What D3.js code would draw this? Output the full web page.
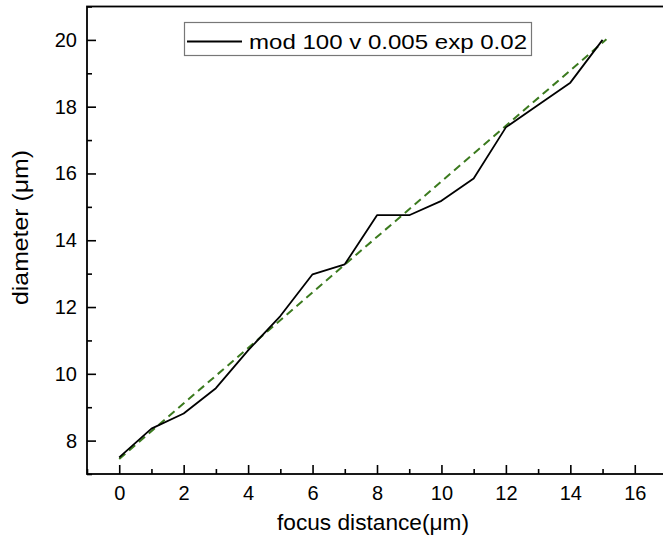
<!DOCTYPE html>
<html>
<head>
<meta charset="utf-8">
<script src="https://cdn.jsdelivr.net/npm/d3@7"></script>
<style>
  body { margin: 0; background: #fff; }
  svg { display: block; font-family: "Liberation Sans", Arial, sans-serif; }
  .axis path { display: none; }
  .axis line { stroke: #000; stroke-width: 1.6; }
  .axis text { font-size: 20px; fill: #000; }
</style>
</head>
<body>
<div id="chart"></div>
<script>
// measured data (focus distance vs diameter)
const focusDist = [0, 1, 2, 3, 4, 5, 6, 7, 8, 9, 10, 11, 12, 13, 14, 15];
const diameter = [7.5, 8.36, 8.81, 9.57, 10.7, 11.73, 12.98, 13.28, 14.75, 14.75, 15.18, 15.85, 17.38, 18.05, 18.72, 20.0];
// linear fit, drawn dashed
const fitX = [0, 15.12];
const fitY = [7.45, 20.02];

const xMajor = [0, 2, 4, 6, 8, 10, 12, 14, 16];
const xMinor = [-1, 1, 3, 5, 7, 9, 11, 13, 15, 17];
const yMajor = [8, 10, 12, 14, 16, 18, 20];
const yMinor = [7, 9, 11, 13, 15, 17, 19, 21];

const legendLabel = "mod 100 v 0.005 exp 0.02";

(() => {
  const width = 663, height = 547;
  const svg = d3.select("#chart").append("svg")
    .attr("width", width)
    .attr("height", height);

  const x = d3.scaleLinear().domain([-1, 17]).range([87, 667]);
  const y = d3.scaleLinear().domain([7, 21]).range([474, 6.5]);

  // minor ticks first, no labels
  svg.append("g").attr("class", "axis")
    .attr("transform", `translate(0,${y(7)})`)
    .call(d3.axisBottom(x).tickValues(xMinor).tickSize(-5).tickFormat(""));
  svg.append("g").attr("class", "axis")
    .attr("transform", `translate(${x(-1)},0)`)
    .call(d3.axisLeft(y).tickValues(yMinor).tickSize(-5).tickFormat(""));

  // major ticks
  svg.append("g").attr("class", "axis")
    .attr("transform", `translate(0,${y(7)})`)
    .call(d3.axisBottom(x).tickValues(xMajor).tickSize(-9).tickPadding(12).tickFormat(d3.format("d")));
  svg.append("g").attr("class", "axis")
    .attr("transform", `translate(${x(-1)},0)`)
    .call(d3.axisLeft(y).tickValues(yMajor).tickSize(-9).tickPadding(10).tickFormat(d3.format("d")));

  // frame
  svg.append("rect")
    .attr("x", x(-1)).attr("y", y(21))
    .attr("width", x(17) - x(-1)).attr("height", y(7) - y(21))
    .attr("fill", "none").attr("stroke", "#000").attr("stroke-width", 1.8);

  const line = d3.line().x(d => x(d[0])).y(d => y(d[1]));

  // fit line
  svg.append("path")
    .datum(d3.zip(fitX, fitY))
    .attr("d", line)
    .attr("fill", "none")
    .attr("stroke", "#3b7a1e")
    .attr("stroke-width", 2)
    .attr("stroke-dasharray", "8,5");

  // data line
  svg.append("path")
    .datum(d3.zip(focusDist, diameter))
    .attr("d", line)
    .attr("fill", "none")
    .attr("stroke", "#000")
    .attr("stroke-width", 1.8)
    .attr("stroke-linejoin", "round");

  // legend
  const lg = svg.append("g");
  lg.append("rect")
    .attr("x", 184.5).attr("y", 22.5)
    .attr("width", 347).attr("height", 33)
    .attr("fill", "#fff").attr("stroke", "#777").attr("stroke-width", 1.2);
  lg.append("line")
    .attr("x1", 187).attr("x2", 242)
    .attr("y1", 41.5).attr("y2", 41.5)
    .attr("stroke", "#000").attr("stroke-width", 1.8);
  lg.append("text")
    .attr("x", 249).attr("y", 48.5)
    .attr("font-size", 21)
    .attr("textLength", 278)
    .attr("lengthAdjust", "spacingAndGlyphs")
    .text(legendLabel);

  // axis titles
  svg.append("text")
    .attr("x", 277).attr("y", 530)
    .attr("font-size", 22)
    .attr("textLength", 192)
    .attr("lengthAdjust", "spacingAndGlyphs")
    .text("focus distance(μm)");
  svg.append("text")
    .attr("transform", "translate(28,305) rotate(-90)")
    .attr("font-size", 22)
    .attr("textLength", 155)
    .attr("lengthAdjust", "spacingAndGlyphs")
    .text("diameter (μm)");
})();
</script>
</body>
</html>
